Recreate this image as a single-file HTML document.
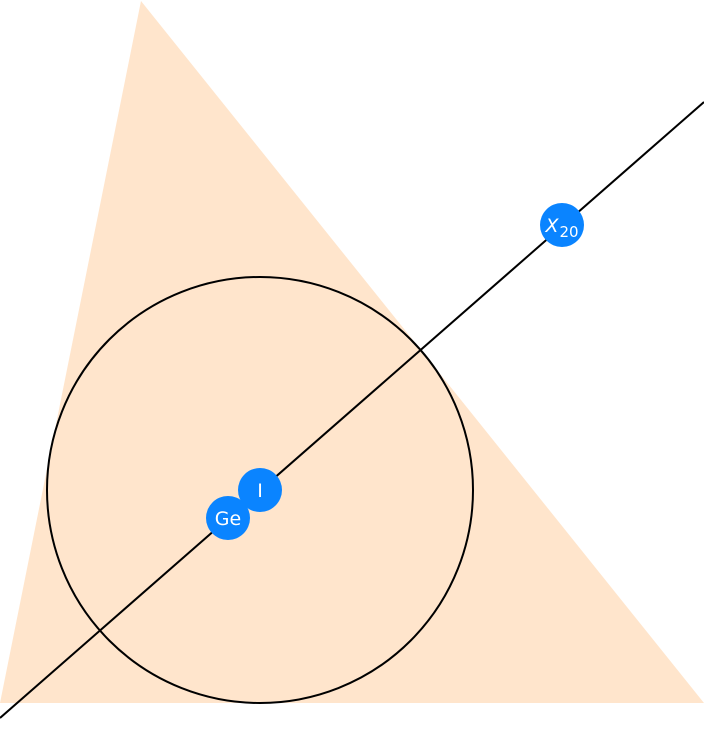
<!DOCTYPE html>
<html><head><meta charset="utf-8"><style>html,body{margin:0;padding:0;background:#fff}</style></head>
<body>
<svg width="704" height="750" viewBox="0 0 704 750" xmlns="http://www.w3.org/2000/svg" style="display:block">
<polygon points="141,1 704,703 0,703" fill="#ffe5cc"/>
<circle cx="260" cy="490" r="213" fill="none" stroke="#000" stroke-width="2"/>
<line x1="0" y1="718" x2="704" y2="102" stroke="#000" stroke-width="2"/>
<g font-family="DejaVu Sans, sans-serif" font-size="19" fill="#fff" text-anchor="middle">
<circle cx="260" cy="490" r="22" fill="#0a84ff"/>
<text x="260" y="497">I</text>
<circle cx="228" cy="518" r="22" fill="#0a84ff"/>
<text x="228" y="525">Ge</text>
<circle cx="562" cy="225" r="22" fill="#0a84ff"/>
<text x="552" y="232" font-style="italic">X</text>
<text x="569" y="237" font-size="15">20</text>
</g>
</svg>
</body></html>
